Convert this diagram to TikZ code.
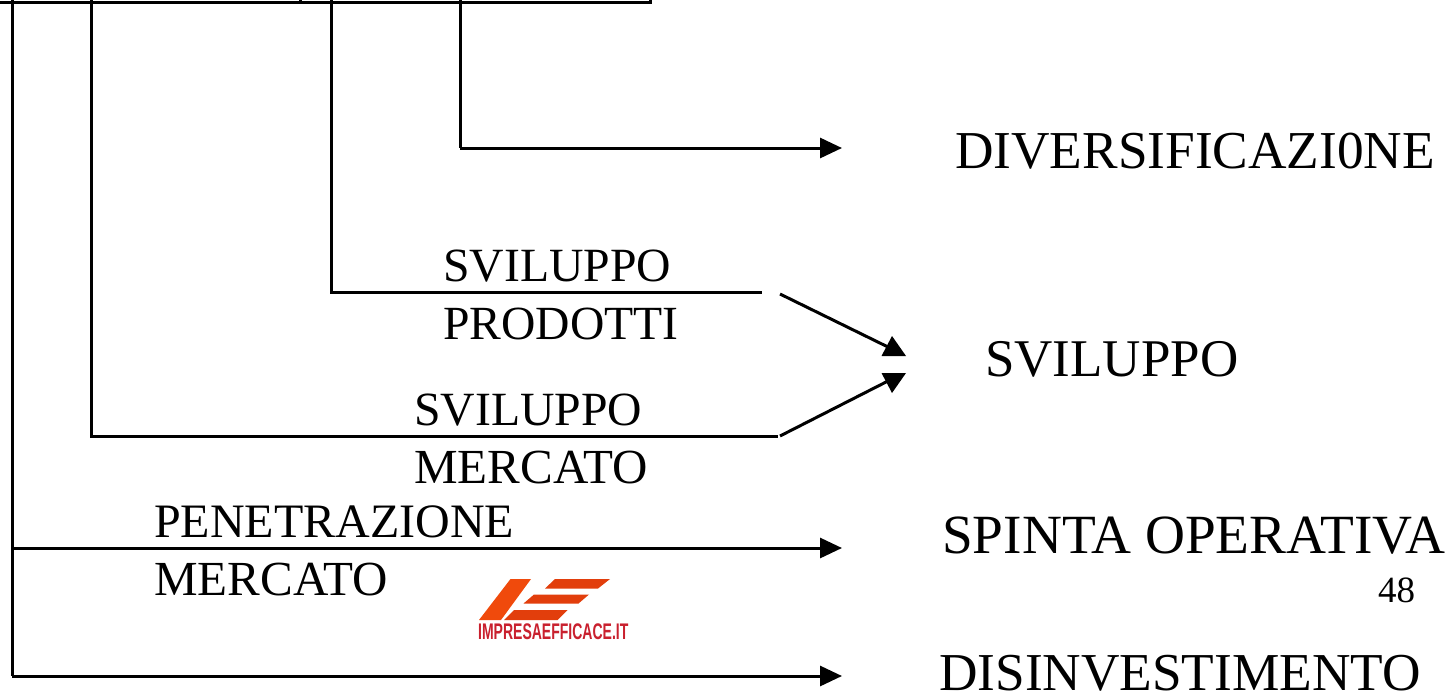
\documentclass[tikz,border=0pt]{standalone}
\usepackage{fontspec}
\setmainfont{Liberation Serif}
\newfontfamily\logofont{Liberation Sans}
\usetikzlibrary{arrows.meta}
\definecolor{logoorange}{HTML}{F04A0C}
\definecolor{logodeep}{HTML}{E23E0C}
\definecolor{logored}{HTML}{C9202E}
\newcommand{\fsz}[1]{\fontsize{#1}{#1}\selectfont}
\tikzset{
  conn/.style={line width=3pt,draw=black},
  arr/.style={conn,-{Triangle[length=22pt,width=20pt]}},
  lab/.style={inner sep=0pt,anchor=base west},
  tip/.style={fill=black,draw=none},
}
\begin{document}
\begin{tikzpicture}[x=1pt,y=-1pt]
\useasboundingbox (0,0) rectangle (1451,691);
\fill[white] (0,0) rectangle (1451,691);
% free ends
\coordinate (t0) at (0,2.5);
\coordinate (t1) at (650,2.5);
\coordinate (t2) at (650,0);
\coordinate (tk) at (300,2.5);
\coordinate (tk2) at (300,0);
\coordinate (a0) at (12,0);
\coordinate (a1) at (12,676);
\coordinate (a2) at (842,676);
\coordinate (p0) at (12,548);
\coordinate (p1) at (842,548);
\coordinate (b0) at (91,0);
\coordinate (b1) at (91,436);
\coordinate (b2) at (778,436);
\coordinate (c0) at (331,0);
\coordinate (c1) at (331,292);
\coordinate (c2) at (762,292);
\coordinate (d0) at (460,0);
\coordinate (d1) at (460,148);
\coordinate (d2) at (842,148);
\coordinate (e0) at (780,294);
\coordinate (e1) at (888,347);
\coordinate (f0) at (780,436);
\coordinate (f1) at (888,381);
% lines
\draw[conn] (t0) -- (t1) -- (t2);
\draw[conn] (tk) -- (tk2);
\draw[conn] (a0) -- (a1);
\draw[arr] (a1) -- (a2);
\draw[arr] (p0) -- (p1);
\draw[conn] (b0) -- (b1) -- (b2);
\draw[conn] (c0) -- (c1) -- (c2);
\draw[conn] (d0) -- (d1);
\draw[arr] (d1) -- (d2);
\draw[conn] (e0) -- (e1);
\draw[conn] (f0) -- (f1);
\fill[tip] (892,336) -- (906,356) -- (881.5,356) -- cycle;
\fill[tip] (892,393) -- (906,373) -- (881.5,373) -- cycle;
% labels
\node[lab,font=\fsz{53.3}] (div) at (955,168) {DIVERSIFICAZI0NE};
\node[lab,font=\fsz{53}] (svi) at (985,376) {SVILUPPO};
\node[lab,font=\fsz{55.3}] (spo) at (942,553) {SPINTA OPERATIVA};
\node[lab,font=\fsz{53.3}] (dis) at (939,690) {DISINVESTIMENTO};
\node[lab,font=\fsz{47.7}] (sp1) at (443,281) {SVILUPPO};
\node[lab,font=\fsz{47.6}] (sp2) at (443,339) {PRODOTTI};
\node[lab,font=\fsz{47.7}] (sm1) at (414,425) {SVILUPPO};
\node[lab,font=\fsz{49}] (sm2) at (414,483) {MERCATO};
\node[lab,font=\fsz{48}] (pm1) at (154,537) {PENETRAZIONE};
\node[lab,font=\fsz{49}] (pm2) at (154,595) {MERCATO};
\node[lab,font=\fsz{37}] (num) at (1378,602) {48};
% logo
\fill[logoorange] (510.5,579) -- (531,579) -- (501,620) -- (479,620) -- cycle;
\fill[logodeep] (514,610) -- (567.5,610) -- (557.5,620) -- (504,620) -- cycle;
\fill[logodeep] (534,594.5) -- (589,594.5) -- (578.5,603.5) -- (523.5,603.5) -- cycle;
\fill[logodeep] (555,579) -- (610,579) -- (598,588.5) -- (545,588.5) -- cycle;
\node[lab,text=logored,font=\logofont\bfseries\fsz{22.6},xscale=0.62] (logo) at (478,639) {IMPRESAEFFICACE.IT};
\end{tikzpicture}
\end{document}
